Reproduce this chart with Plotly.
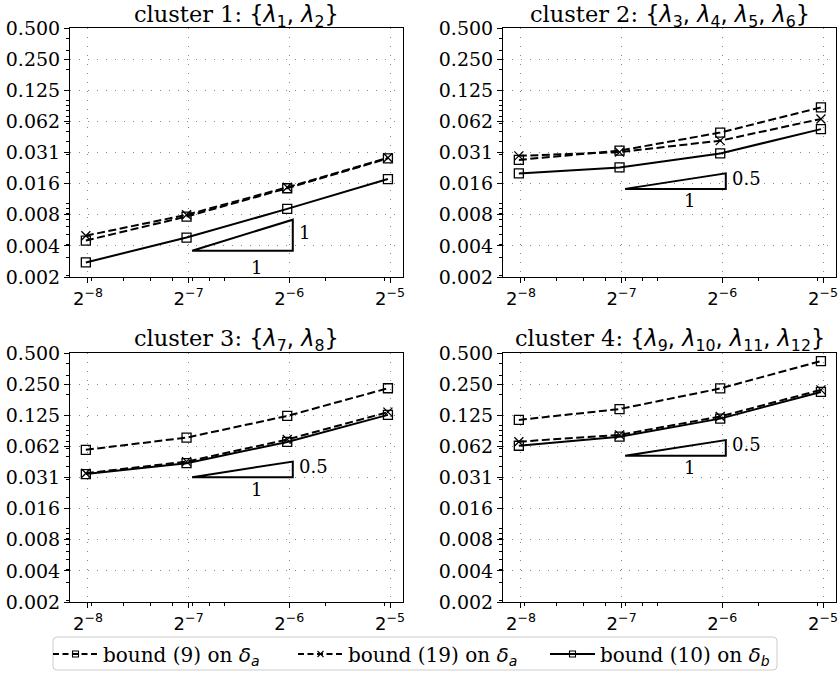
import plotly.graph_objects as go
import math

# ---------------- data ----------------
h = [0.00385, 0.0077, 0.0154, 0.0308]

xtick_vals = [2**-8, 2**-7, 2**-6, 2**-5]
xtick_text = ["2<sup>−8</sup>", "2<sup>−7</sup>", "2<sup>−6</sup>", "2<sup>−5</sup>"]
ytick_vals = [2**-9, 2**-8, 2**-7, 2**-6, 2**-5, 2**-4, 2**-3, 2**-2, 2**-1]
ytick_text = ["0.002", "0.004", "0.008", "0.016", "0.031", "0.062", "0.125", "0.250", "0.500"]

titles = [
    "cluster 1: <span style='font-family:DejaVu Sans'>{<i>λ</i><sub>1</sub>, <i>λ</i><sub>2</sub>}</span>",
    "cluster 2: <span style='font-family:DejaVu Sans'>{<i>λ</i><sub>3</sub>, <i>λ</i><sub>4</sub>, <i>λ</i><sub>5</sub>, <i>λ</i><sub>6</sub>}</span>",
    "cluster 3: <span style='font-family:DejaVu Sans'>{<i>λ</i><sub>7</sub>, <i>λ</i><sub>8</sub>}</span>",
    "cluster 4: <span style='font-family:DejaVu Sans'>{<i>λ</i><sub>9</sub>, <i>λ</i><sub>10</sub>, <i>λ</i><sub>11</sub>, <i>λ</i><sub>12</sub>}</span>",
]

bound9 = [
    [0.0044, 0.0075, 0.0141, 0.0274],
    [0.0265, 0.0326, 0.0487, 0.0854],
    [0.0579, 0.076, 0.123, 0.228],
    [0.1127, 0.1435, 0.227, 0.418],
]
bound19 = [
    [0.0049, 0.0078, 0.0144, 0.0278],
    [0.029, 0.0315, 0.0407, 0.066],
    [0.0344, 0.0445, 0.0728, 0.134],
    [0.0694, 0.0807, 0.1215, 0.22],
]
bound10 = [
    [0.0027, 0.0047, 0.0089, 0.0173],
    [0.0196, 0.0224, 0.0306, 0.0526],
    [0.0337, 0.043, 0.069, 0.126],
    [0.0634, 0.0775, 0.116, 0.21],
]

tri_x_start = [0.008, 0.008, 0.008, 0.008]
tri_x_end = [0.016, 0.016, 0.016, 0.016]
tri_y_base = [0.0035, 0.0139, 0.0315, 0.0508]
tri_slope = [1, 0.5, 0.5, 0.5]
tri_slope_text = ["1", "0.5", "0.5", "0.5"]
tri_run_text = ["1", "1", "1", "1"]
tri_run_label_x = [0.0125, 0.0125, 0.0125, 0.0125]

legend_names = [
    "bound (9) on <span style='font-family:DejaVu Sans'><i>δ</i><sub><i>a</i></sub></span>",
    "bound (19) on <span style='font-family:DejaVu Sans'><i>δ</i><sub><i>a</i></sub></span>",
    "bound (10) on <span style='font-family:DejaVu Sans'><i>δ</i><sub><i>b</i></sub></span>",
]

# ---------------- layout geometry ----------------
W, H = 839, 673
x_doms = [(70 / W, 403 / W), (503 / W, 836 / W)]
y_doms = [(1 - 277 / H, 1 - 28 / H), (1 - 602 / H, 1 - 353 / H)]
title_y = [1 - 15.5 / H, 1 - 340 / H]
run_drop = [17, 12, 12, 12]
legend_left_px = [48, 293, 545]
legend_mid_px = 654
legend_box_px = (53, 777, 637, 670)

LOG2 = math.log10(2)
xrange_ = [LOG2 * (-8 - 18 / 101), LOG2 * (-5 + 13 / 101)]
yrange_ = [math.log10(2**-9), math.log10(2**-1)]

xminor = [k * 10**e for e in (-3, -2) for k in range(1, 10)]
yminor = [k * 10**e for e in (-3, -2, -1) for k in range(1, 10)]

LW = 2
DASH = "8px,3.5px"

fig = go.Figure()
layout = dict()
annotations = []

for i in range(4):
    r, c = divmod(i, 2)
    ax = "" if i == 0 else str(i + 1)
    xa, ya = "x" + ax, "y" + ax

    common = dict(
        type="log", showline=True, mirror=True, linecolor="black", linewidth=1,
        ticks="outside", ticklen=5, tickwidth=1, tickcolor="black",
        showgrid=True, gridcolor="#8a8a8a", griddash="1.3px,7.7px", gridwidth=1.2,
        zeroline=False, automargin=False,
    )
    layout["xaxis" + ax] = dict(
        common, domain=list(x_doms[c]), anchor=ya, range=xrange_,
        tickmode="array", tickvals=xtick_vals, ticktext=xtick_text,
        tickfont=dict(family="DejaVu Sans", size=18, color="black"),
        minor=dict(tickmode="array", tickvals=xminor, ticks="outside",
                   ticklen=3, tickwidth=1, tickcolor="black", showgrid=False),
    )
    layout["yaxis" + ax] = dict(
        common, domain=list(y_doms[r]), anchor=xa, range=yrange_,
        tickmode="array", tickvals=ytick_vals, ticktext=ytick_text,
        tickfont=dict(family="DejaVu Serif", size=19, color="black"),
        minor=dict(tickmode="array", tickvals=yminor, ticks="outside",
                   ticklen=3, tickwidth=1, tickcolor="black", showgrid=False),
    )

    fig.add_trace(go.Scatter(
        x=h, y=bound9[i], xaxis=xa, yaxis=ya, mode="lines+markers", showlegend=False,
        line=dict(color="black", width=LW, dash=DASH),
        marker=dict(symbol="square-open", size=9, color="black", line=dict(width=1.3, color="black")),
    ))
    fig.add_trace(go.Scatter(
        x=h, y=bound19[i], xaxis=xa, yaxis=ya, mode="lines+markers", showlegend=False,
        line=dict(color="black", width=LW, dash=DASH),
        marker=dict(symbol="x-thin-open", size=9, color="black", line=dict(width=1.3, color="black")),
    ))
    fig.add_trace(go.Scatter(
        x=h, y=bound10[i], xaxis=xa, yaxis=ya, mode="lines+markers", showlegend=False,
        line=dict(color="black", width=LW),
        marker=dict(symbol="square-open", size=9, color="black", line=dict(width=1.3, color="black")),
    ))

    # slope triangle
    xs, xe, yb = tri_x_start[i], tri_x_end[i], tri_y_base[i]
    yt = yb * (xe / xs) ** tri_slope[i]
    fig.add_trace(go.Scatter(
        x=[xs, xe, xe, xs], y=[yb, yb, yt, yb], xaxis=xa, yaxis=ya,
        mode="lines", showlegend=False, line=dict(color="black", width=LW),
        hoverinfo="skip",
    ))
    annotations.append(dict(
        x=math.log10(xe), y=math.log10(math.sqrt(yb * yt)), xref=xa, yref=ya,
        text=tri_slope_text[i], showarrow=False, xanchor="left", yanchor="middle",
        xshift=4, yshift=3, font=dict(family="DejaVu Serif", size=18, color="black"),
    ))
    annotations.append(dict(
        x=math.log10(tri_run_label_x[i]), y=math.log10(yb), xref=xa, yref=ya,
        text=tri_run_text[i], showarrow=False, xanchor="center", yanchor="middle",
        yshift=-run_drop[i], font=dict(family="DejaVu Serif", size=18, color="black"),
    ))
    annotations.append(dict(
        x=(x_doms[c][0] + x_doms[c][1]) / 2, y=title_y[r], xref="paper", yref="paper",
        text=titles[i], showarrow=False, xanchor="center", yanchor="middle",
        font=dict(family="DejaVu Serif", size=22.5, color="black"),
    ))

# legend-only traces, each in its own legend
leg_styles = [
    dict(dash="6px,3.5px", symbol="square-open"),
    dict(dash="6px,3.5px", symbol="x-thin-open"),
    dict(dash="solid", symbol="square-open"),
]
leg_ids = ["legend", "legend2", "legend3"]
for name, st, lid in zip(legend_names, leg_styles, leg_ids):
    fig.add_trace(go.Scatter(
        x=[None], y=[None], mode="lines+markers", name=name, legend=lid,
        line=dict(color="black", width=LW, dash=st["dash"]),
        marker=dict(symbol=st["symbol"], size=6, color="black", line=dict(width=1.1, color="black")),
    ))
for lid, lx in zip(leg_ids, legend_left_px):
    layout[lid] = dict(
        orientation="h", xref="container", yref="container",
        x=lx / W, xanchor="left", y=1 - legend_mid_px / H, yanchor="middle",
        borderwidth=0, bgcolor="rgba(0,0,0,0)",
        font=dict(family="DejaVu Serif", size=20, color="black"),
        itemsizing="trace", itemwidth=45,
    )

# rounded legend frame
bx0, bx1, by0, by1 = legend_box_px
rad = 4
def px(xp):
    return xp / W
def py(yp):
    return 1 - yp / H
frame = (
    f"M {px(bx0 + rad)},{py(by0)} L {px(bx1 - rad)},{py(by0)} "
    f"Q {px(bx1)},{py(by0)} {px(bx1)},{py(by0 + rad)} "
    f"L {px(bx1)},{py(by1 - rad)} Q {px(bx1)},{py(by1)} {px(bx1 - rad)},{py(by1)} "
    f"L {px(bx0 + rad)},{py(by1)} Q {px(bx0)},{py(by1)} {px(bx0)},{py(by1 - rad)} "
    f"L {px(bx0)},{py(by0 + rad)} Q {px(bx0)},{py(by0)} {px(bx0 + rad)},{py(by0)} Z"
)

fig.update_layout(
    **layout,
    annotations=annotations,
    shapes=[dict(type="path", path=frame, xref="paper", yref="paper",
                 line=dict(color="#cccccc", width=1), fillcolor="white", layer="below")],
    width=W, height=H,
    margin=dict(l=0, r=0, t=0, b=0, autoexpand=False),
    paper_bgcolor="white", plot_bgcolor="white",
    font=dict(family="DejaVu Serif", size=18, color="black"),
    showlegend=True,
    hovermode=False,
)

fig.write_html(
    "out.html",
    config={"displayModeBar": False, "staticPlot": False},
    post_script="document.body.style.margin='0px';document.body.style.overflow='hidden';",
)
